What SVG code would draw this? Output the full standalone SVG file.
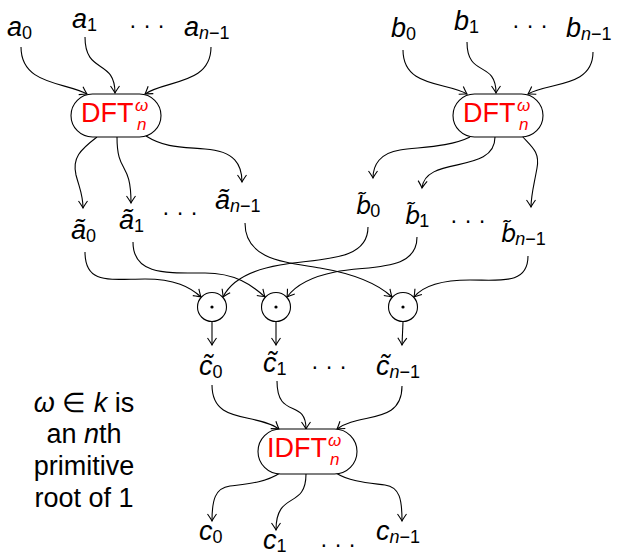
<svg xmlns="http://www.w3.org/2000/svg" width="622" height="556" viewBox="0 0 622 556">
<style>
text { font-family: "Liberation Sans", Arial, sans-serif; fill: #000; }
.lab { font-size: 27px; }
.it { font-style: italic; }
.dv { font-family: "DejaVu Sans", sans-serif; font-size: 24px; font-style: italic; }
.sub { font-size: 18px; }
.dots { font-size: 23px; text-anchor: middle; }
.op { font-size: 27px; fill: #ff0000; }
.sc { font-size: 17px; font-style: italic; }
.note { font-size: 27px; text-anchor: middle; }
.edge { fill: none; stroke: #000; stroke-width: 1.1; marker-end: url(#ah); }
.box { fill: #fff; stroke: #000; stroke-width: 1.1; }
.mul { fill: #fff; stroke: #000; stroke-width: 1.1; }
</style>
<defs>
<marker id="ah" markerUnits="userSpaceOnUse" viewBox="-8 -6 10 12" markerWidth="10" markerHeight="12" refX="0" refY="0" orient="auto">
<path d="M-7,-4.5 Q-2,-1 0,0 Q-2,1 -7,4.5" fill="none" stroke="#000" stroke-width="1.1"/>
</marker>
</defs>
<rect width="622" height="556" fill="#fff"/>

<g id="connectors">
<path class="edge" d="M21,47 C21,85 65,82 87,94"/>
<path class="edge" d="M85,37 C85,75 115,58 115,93"/>
<path class="edge" d="M211,47 C211,85 165,80 145,94"/>
<path class="edge" d="M403,50 C403,88 447,82 467,94"/>
<path class="edge" d="M467,42 C467,78 496,60 496,93"/>
<path class="edge" d="M593,52 C593,88 548,82 528,94"/>

<path class="edge" d="M97,137 C80,150 72,158 76,175 C80,190 83,195 83,208"/>
<path class="edge" d="M117,137 C117,175 131,160 131,203"/>
<path class="edge" d="M146,136 C165,148 182,147 205,149 C235,151 242,165 242,182"/>
<path class="edge" d="M470,137 C450,147 420,147 400,150 C380,153 373,165 373,178"/>
<path class="edge" d="M495,137 C495,175 425,155 422,188"/>
<path class="edge" d="M522,136 C532,147 540,152 537,168 C534,185 531,195 531,207"/>

<path class="edge" d="M85,252 C85,285 110,279 145,279 C175,279 190,287 201,297"/>
<path class="edge" d="M133,242 C133,275 165,273 205,273 C235,273 252,285 265,297"/>
<path class="edge" d="M245,223 C245,260 285,262 320,268 C355,274 377,283 392,297"/>
<path class="edge" d="M368,227 C368,262 320,258 280,265 C245,271 230,283 223,297"/>
<path class="edge" d="M417,237 C417,272 370,265 335,272 C310,277 295,286 287,297"/>
<path class="edge" d="M528,256 C528,285 500,280 470,280 C440,280 423,286 414,297"/>

<path class="edge" d="M212,322 L212,345"/>
<path class="edge" d="M276,322 L276,345"/>
<path class="edge" d="M403,322 L402,345"/>

<path class="edge" d="M212,385 C212,425 255,412 279,429"/>
<path class="edge" d="M277,381 C277,420 306,398 306,429"/>
<path class="edge" d="M402,386 C402,425 360,412 337,429"/>

<path class="edge" d="M280,473 C265,483 245,484 230,486 C215,488 212,500 212,521"/>
<path class="edge" d="M306,474 C306,510 276,490 276,530"/>
<path class="edge" d="M336,473 C350,482 370,483 385,485 C400,487 402,500 402,521"/>
</g>

<g id="dft-a">
<rect class="box" x="71" y="94" width="90" height="43" rx="21.5"/>
<text class="op" x="81" y="122">DFT<tspan class="sc" x="135" y="111">ω</tspan><tspan class="sc" x="137" y="130">n</tspan></text>
</g>
<g id="dft-b">
<rect class="box" x="453" y="94" width="90" height="43" rx="21.5"/>
<text class="op" x="463" y="122">DFT<tspan class="sc" x="517" y="111">ω</tspan><tspan class="sc" x="519" y="130">n</tspan></text>
</g>
<g id="idft">
<rect class="box" x="258" y="429" width="99" height="45" rx="22.5"/>
<text class="op" x="267" y="457">IDFT<tspan class="sc" x="328" y="446">ω</tspan><tspan class="sc" x="330" y="465">n</tspan></text>
</g>

<g id="mul0"><circle class="mul" cx="212" cy="307" r="14.5"/><circle cx="212" cy="307" r="1.6" fill="#000"/></g>
<g id="mul1"><circle class="mul" cx="276" cy="307" r="14.5"/><circle cx="276" cy="307" r="1.6" fill="#000"/></g>
<g id="mul2"><circle class="mul" cx="403" cy="307" r="14.5"/><circle cx="403" cy="307" r="1.6" fill="#000"/></g>

<g id="a0"><text class="lab" x="7" y="36"><tspan class="it">a</tspan><tspan class="sub" dy="3">0</tspan></text></g>
<g id="a1"><text class="lab" x="72" y="28"><tspan class="it">a</tspan><tspan class="sub" dy="3">1</tspan></text></g>
<g id="adots"><text class="dots" x="147" y="33">· · ·</text></g>
<g id="an"><text class="lab" x="184" y="36"><tspan class="it">a</tspan><tspan class="sub" dy="3"><tspan class="it">n</tspan>−1</tspan></text></g>

<g id="b0"><text class="lab" x="391" y="37"><tspan class="it">b</tspan><tspan class="sub" dy="3">0</tspan></text></g>
<g id="b1"><text class="lab" x="454" y="30"><tspan class="it">b</tspan><tspan class="sub" dy="3">1</tspan></text></g>
<g id="bdots"><text class="dots" x="530" y="33">· · ·</text></g>
<g id="bn"><text class="lab" x="566" y="37"><tspan class="it">b</tspan><tspan class="sub" dy="3"><tspan class="it">n</tspan>−1</tspan></text></g>

<g id="ta0"><text class="lab" x="71" y="239"><tspan class="it">ã</tspan><tspan class="sub" dy="3">0</tspan></text></g>
<g id="ta1"><text class="lab" x="119" y="229"><tspan class="it">ã</tspan><tspan class="sub" dy="3">1</tspan></text></g>
<g id="tadots"><text class="dots" x="180" y="220">· · ·</text></g>
<g id="tan"><text class="lab" x="215" y="209"><tspan class="it">ã</tspan><tspan class="sub" dy="3"><tspan class="it">n</tspan>−1</tspan></text></g>

<g id="tb0"><text class="lab" x="356" y="214"><tspan class="dv">b̃</tspan><tspan class="sub" dx="-1" dy="3">0</tspan></text></g>
<g id="tb1"><text class="lab" x="405" y="224"><tspan class="dv">b̃</tspan><tspan class="sub" dx="-1" dy="3">1</tspan></text></g>
<g id="tbdots"><text class="dots" x="468" y="228">· · ·</text></g>
<g id="tbn"><text class="lab" x="501" y="242"><tspan class="dv">b̃</tspan><tspan class="sub" dx="-1" dy="3"><tspan class="it">n</tspan>−1</tspan></text></g>

<g id="tc0"><text class="lab" x="199" y="375"><tspan class="it">c̃</tspan><tspan class="sub" dy="3">0</tspan></text></g>
<g id="tc1"><text class="lab" x="263" y="372"><tspan class="it">c̃</tspan><tspan class="sub" dy="3">1</tspan></text></g>
<g id="tcdots"><text class="dots" x="329" y="374">· · ·</text></g>
<g id="tcn"><text class="lab" x="376" y="375"><tspan class="it">c̃</tspan><tspan class="sub" dy="3"><tspan class="it">n</tspan>−1</tspan></text></g>

<g id="c0"><text class="lab" x="199" y="540"><tspan class="it">c</tspan><tspan class="sub" dy="3">0</tspan></text></g>
<g id="c1"><text class="lab" x="263" y="549"><tspan class="it">c</tspan><tspan class="sub" dy="3">1</tspan></text></g>
<g id="cdots"><text class="dots" x="338" y="552">· · ·</text></g>
<g id="cn"><text class="lab" x="376" y="540"><tspan class="it">c</tspan><tspan class="sub" dy="3"><tspan class="it">n</tspan>−1</tspan></text></g>

<g id="note">
<text class="note" x="84" y="412"><tspan class="it">ω</tspan> ∈ <tspan class="it">k</tspan> is</text>
<text class="note" x="84" y="443">an <tspan class="it">n</tspan>th</text>
<text class="note" x="84" y="475">primitive</text>
<text class="note" x="84" y="507">root of 1</text>
</g>
</svg>
